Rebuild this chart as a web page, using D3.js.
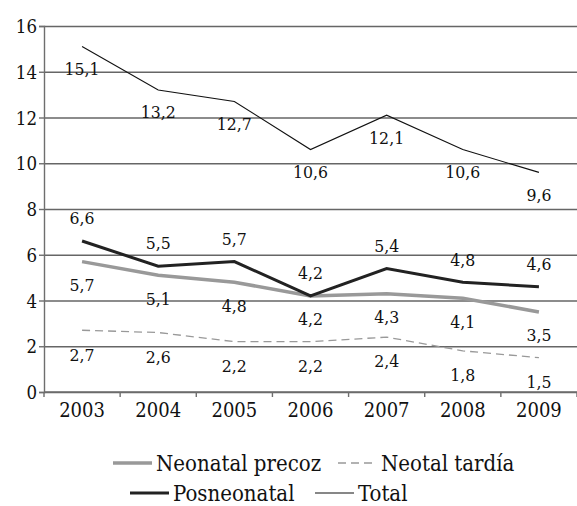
<!DOCTYPE html>
<html>
<head>
<meta charset="utf-8">
<script src="https://cdn.jsdelivr.net/npm/d3@7"></script>
<style>
  body { margin: 0; background: #fff; }
  svg text { font-stretch: condensed; }
</style>
</head>
<body>
<div class="main_contain"></div>
<script>
var years = ["2003", "2004", "2005", "2006", "2007", "2008", "2009"];
var neonatalPrecoz = [5.7, 5.1, 4.8, 4.2, 4.3, 4.1, 3.5];
var neotalTardia = [2.7, 2.6, 2.2, 2.2, 2.4, 1.8, 1.5];
var posneonatal = [6.6, 5.5, 5.7, 4.2, 5.4, 4.8, 4.6];
var total = [15.1, 13.2, 12.7, 10.6, 12.1, 10.6, 9.6];
var yTicks = [0, 2, 4, 6, 8, 10, 12, 14, 16];

var FONT = "DejaVu Serif";

var series = [
  {name: "Neonatal precoz", values: neonatalPrecoz, color: "#999", width: 3.5, dash: null, labelDy: 23},
  {name: "Neotal tardía", values: neotalTardia, color: "#999", width: 1.3, dash: "8,5", labelDy: 24},
  {name: "Posneonatal", values: posneonatal, color: "#222", width: 3, dash: null, labelDy: -23},
  {name: "Total", values: total, color: "#111", width: 1.1, dash: null, labelDy: 22}
];

function drawChart(container){
  var svg_width = 577;
  var svg_height = 506;
  var margins = {top: 26, bottom: 114, right: 0, left: 44};
  var width = svg_width - margins.left - margins.right;
  var height = svg_height - margins.top - margins.bottom;

  var svg = d3.select(container)
              .append("svg")
              .attr("width", svg_width)
              .attr("height", svg_height)
              .attr("font-family", FONT);

  var svg_g = svg.append("g")
                 .attr("transform", "translate(" + margins.left + "," + margins.top + ")");

  var x = d3.scaleBand()
            .domain(years)
            .range([0, width]);

  var y = d3.scaleLinear()
            .domain([0, 16])
            .range([height, 0]);

  // gridlines
  svg_g.append("g")
      .attr("class", "grid")
      .call(d3.axisLeft(y).tickValues(yTicks).tickSize(-width).tickFormat(""))
      .call(g => g.select(".domain").remove())
      .selectAll("line")
      .attr("stroke", "#666")
      .attr("stroke-width", 1.4);

  // y axis
  var yAxis = svg_g.append("g")
      .call(d3.axisLeft(y).tickValues(yTicks).tickSize(5).tickPadding(2))
      .attr("font-family", FONT)
      .attr("font-size", 18.5);
  yAxis.select(".domain").attr("stroke", "#6e6e6e").attr("stroke-width", 1.4);
  yAxis.selectAll(".tick line").attr("stroke", "#6e6e6e").attr("stroke-width", 1.4);
  yAxis.selectAll("text")
      .attr("fill", "#111")
      .attr("dy", "0.36em");

  // x axis
  var xTickPos = years.map(d => x(d)).concat([width]);
  var xAxis = svg_g.append("g")
      .attr("transform", "translate(0," + height + ")");
  xAxis.append("line")
      .attr("x1", 0).attr("x2", width)
      .attr("stroke", "#6e6e6e").attr("stroke-width", 1.4);
  xAxis.selectAll(".xtick")
      .data(xTickPos)
      .enter().append("line")
      .attr("x1", d => d).attr("x2", d => d)
      .attr("y1", 0).attr("y2", 5)
      .attr("stroke", "#6e6e6e").attr("stroke-width", 1.4);
  xAxis.selectAll(".xlabel")
      .data(years)
      .enter().append("text")
      .attr("x", d => x(d) + x.bandwidth() / 2)
      .attr("y", 25)
      .attr("text-anchor", "middle")
      .attr("font-family", FONT)
      .attr("font-size", 20)
      .attr("fill", "#111")
      .text(d => d);

  var line = d3.line()
               .x((d, i) => x(years[i]) + x.bandwidth() / 2)
               .y(d => y(d));

  series.forEach(function(s){
    svg_g.append("path")
        .datum(s.values)
        .attr("d", line)
        .attr("fill", "none")
        .attr("stroke", s.color)
        .attr("stroke-width", s.width)
        .attr("stroke-dasharray", s.dash);
  });

  series.forEach(function(s){
    svg_g.selectAll(null)
        .data(s.values)
        .enter().append("text")
        .attr("x", (d, i) => x(years[i]) + x.bandwidth() / 2)
        .attr("y", d => y(d) + s.labelDy)
        .attr("dy", "0.36em")
        .attr("text-anchor", "middle")
        .attr("font-family", FONT)
        .attr("font-size", 17.5)
        .attr("fill", "#111")
        .text(d => d3.format(".1f")(d).replace(".", ","));
  });

  // legend
  var legendItems = [
    {s: series[0], x: 113, y: 463},
    {s: series[1], x: 338, y: 463},
    {s: series[2], x: 130, y: 493},
    {s: series[3], x: 315, y: 493}
  ];
  var legend = svg.append("g").attr("class", "legend");
  legendItems.forEach(function(d){
    legend.append("line")
        .attr("x1", d.x).attr("x2", d.x + 39)
        .attr("y1", d.y).attr("y2", d.y)
        .attr("stroke", d.s.color)
        .attr("stroke-width", d.s.width)
        .attr("stroke-dasharray", d.s.dash);
    legend.append("text")
        .attr("x", d.x + 43)
        .attr("y", d.y)
        .attr("dy", "0.36em")
        .attr("font-family", FONT)
        .attr("font-size", 22)
        .attr("fill", "#111")
        .text(d.s.name);
  });
}

drawChart(".main_contain");
</script>
</body>
</html>
